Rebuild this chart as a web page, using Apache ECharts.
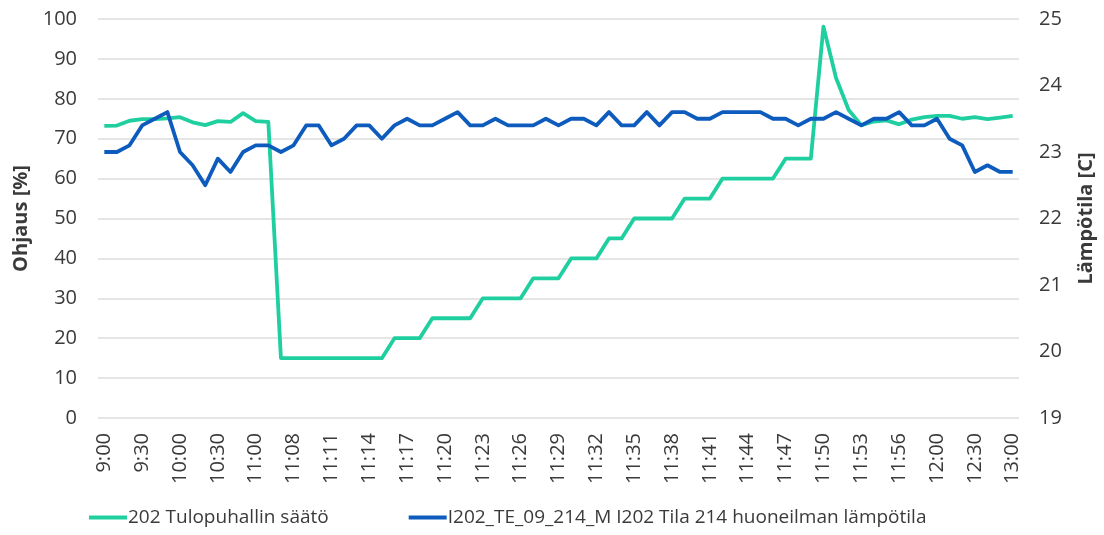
<!DOCTYPE html>
<html>
<head>
<meta charset="utf-8">
<script src="https://cdn.jsdelivr.net/npm/echarts@6/dist/echarts.min.js"></script>
<style>
  html, body { margin: 0; padding: 0; background: #fff; }
  #chart { width: 1104px; height: 535px; }
</style>
</head>
<body>
<div id="chart"></div>
<script>
// Time stamps of the samples (every third one is labelled on the axis)
const times = [
  '9:00', '9:10', '9:20', '9:30', '9:40', '9:50', '10:00', '10:10', '10:20', '10:30',
  '10:40', '10:50', '11:00', '11:04', '11:06', '11:08', '11:09', '11:10', '11:11', '11:12',
  '11:13', '11:14', '11:15', '11:16', '11:17', '11:18', '11:19', '11:20', '11:21', '11:22',
  '11:23', '11:24', '11:25', '11:26', '11:27', '11:28', '11:29', '11:30', '11:31', '11:32',
  '11:33', '11:34', '11:35', '11:36', '11:37', '11:38', '11:39', '11:40', '11:41', '11:42',
  '11:43', '11:44', '11:45', '11:46', '11:47', '11:48', '11:49', '11:50', '11:51', '11:52',
  '11:53', '11:54', '11:55', '11:56', '11:57', '11:58', '12:00', '12:10', '12:20', '12:30',
  '12:40', '12:50', '13:00'
];

// Supply fan control signal [%]
const fanControl = [
  73.2, 73.3, 74.5, 74.9, 74.9, 75.1, 75.4, 74.1, 73.4, 74.4,
  74.2, 76.4, 74.4, 74.2, 15, 15, 15, 15, 15, 15,
  15, 15, 15, 20, 20, 20, 25, 25, 25, 25,
  30, 30, 30, 30, 35, 35, 35, 40, 40, 40,
  45, 45, 50, 50, 50, 50, 55, 55, 55, 60,
  60, 60, 60, 60, 65, 65, 65, 98.1, 85.2, 77.2,
  73.4, 74.3, 74.6, 73.6, 74.8, 75.4, 75.7, 75.7, 75.0, 75.4,
  74.9, 75.3, 75.7
];

// Room air temperature [C]
const roomTemp = [
  23.0, 23.0, 23.1, 23.4, 23.5, 23.6, 23.0, 22.8, 22.5, 22.9,
  22.7, 23.0, 23.1, 23.1, 23.0, 23.1, 23.4, 23.4, 23.1, 23.2,
  23.4, 23.4, 23.2, 23.4, 23.5, 23.4, 23.4, 23.5, 23.6, 23.4,
  23.4, 23.5, 23.4, 23.4, 23.4, 23.5, 23.4, 23.5, 23.5, 23.4,
  23.6, 23.4, 23.4, 23.6, 23.4, 23.6, 23.6, 23.5, 23.5, 23.6,
  23.6, 23.6, 23.6, 23.5, 23.5, 23.4, 23.5, 23.5, 23.6, 23.5,
  23.4, 23.5, 23.5, 23.6, 23.4, 23.4, 23.5, 23.2, 23.1, 22.7,
  22.8, 22.7, 22.7
];

const seriesNames = ['202 Tulopuhallin säätö', 'I202_TE_09_214_M I202 Tila 214 huoneilman lämpötila'];
const leftTitle = 'Ohjaus [%]';
const rightTitle = 'Lämpötila [C]';

const FONT = '"Open Sans", "Noto Sans", sans-serif';
const TEXT = '#3a3a3a';
const GRID = '#dcdcdc';
const GREEN = '#1fcfa0';
const BLUE = '#0d5cbd';

const chart = echarts.init(document.getElementById('chart'), null, { renderer: 'canvas' });

chart.setOption({
  animation: false,
  backgroundColor: '#ffffff',
  textStyle: { fontFamily: FONT },
  grid: { left: 98, right: 85, top: 19, bottom: 117, containLabel: false },
  legend: {
    bottom: 3,
    left: 84,
    itemWidth: 38,
    itemHeight: 4,
    itemGap: 80,
    icon: 'rect',
    textStyle: { fontFamily: FONT, fontSize: 19, color: TEXT, padding: [0, 0, 0, -4] },
    data: seriesNames
  },
  xAxis: {
    type: 'category',
    data: times,
    boundaryGap: true,
    axisLine: { show: false },
    axisTick: { show: false },
    axisLabel: {
      interval: 2,
      rotate: 90,
      margin: 15,
      fontSize: 20,
      color: TEXT,
      fontFamily: FONT
    },
    splitLine: { show: false }
  },
  yAxis: [
    {
      type: 'value',
      min: 0,
      max: 100,
      interval: 10,
      name: leftTitle,
      nameLocation: 'middle',
      nameRotate: 90,
      nameGap: 65,
      nameTextStyle: { fontFamily: FONT, fontSize: 20, fontWeight: 'bold', color: TEXT },
      axisLine: { show: false },
      axisTick: { show: false },
      axisLabel: { fontSize: 20, color: TEXT, margin: 21, fontFamily: FONT },
      splitLine: { show: true, lineStyle: { color: GRID, width: 1.5 } }
    },
    {
      type: 'value',
      min: 19,
      max: 25,
      interval: 1,
      position: 'right',
      name: rightTitle,
      nameLocation: 'middle',
      nameRotate: 90,
      nameGap: 57,
      nameTextStyle: { fontFamily: FONT, fontSize: 20, fontWeight: 'bold', color: TEXT },
      axisLine: { show: false },
      axisTick: { show: false },
      axisLabel: { fontSize: 20, color: TEXT, margin: 20, fontFamily: FONT },
      splitLine: { show: false }
    }
  ],
  series: [
    {
      name: seriesNames[0],
      type: 'line',
      yAxisIndex: 0,
      data: fanControl,
      symbol: 'none',
      lineStyle: { color: GREEN, width: 3.8, join: 'round' },
      itemStyle: { color: GREEN },
      z: 2
    },
    {
      name: seriesNames[1],
      type: 'line',
      yAxisIndex: 1,
      data: roomTemp,
      symbol: 'none',
      lineStyle: { color: BLUE, width: 3.8, join: 'round' },
      itemStyle: { color: BLUE },
      z: 3
    }
  ]
});
</script>
</body>
</html>
